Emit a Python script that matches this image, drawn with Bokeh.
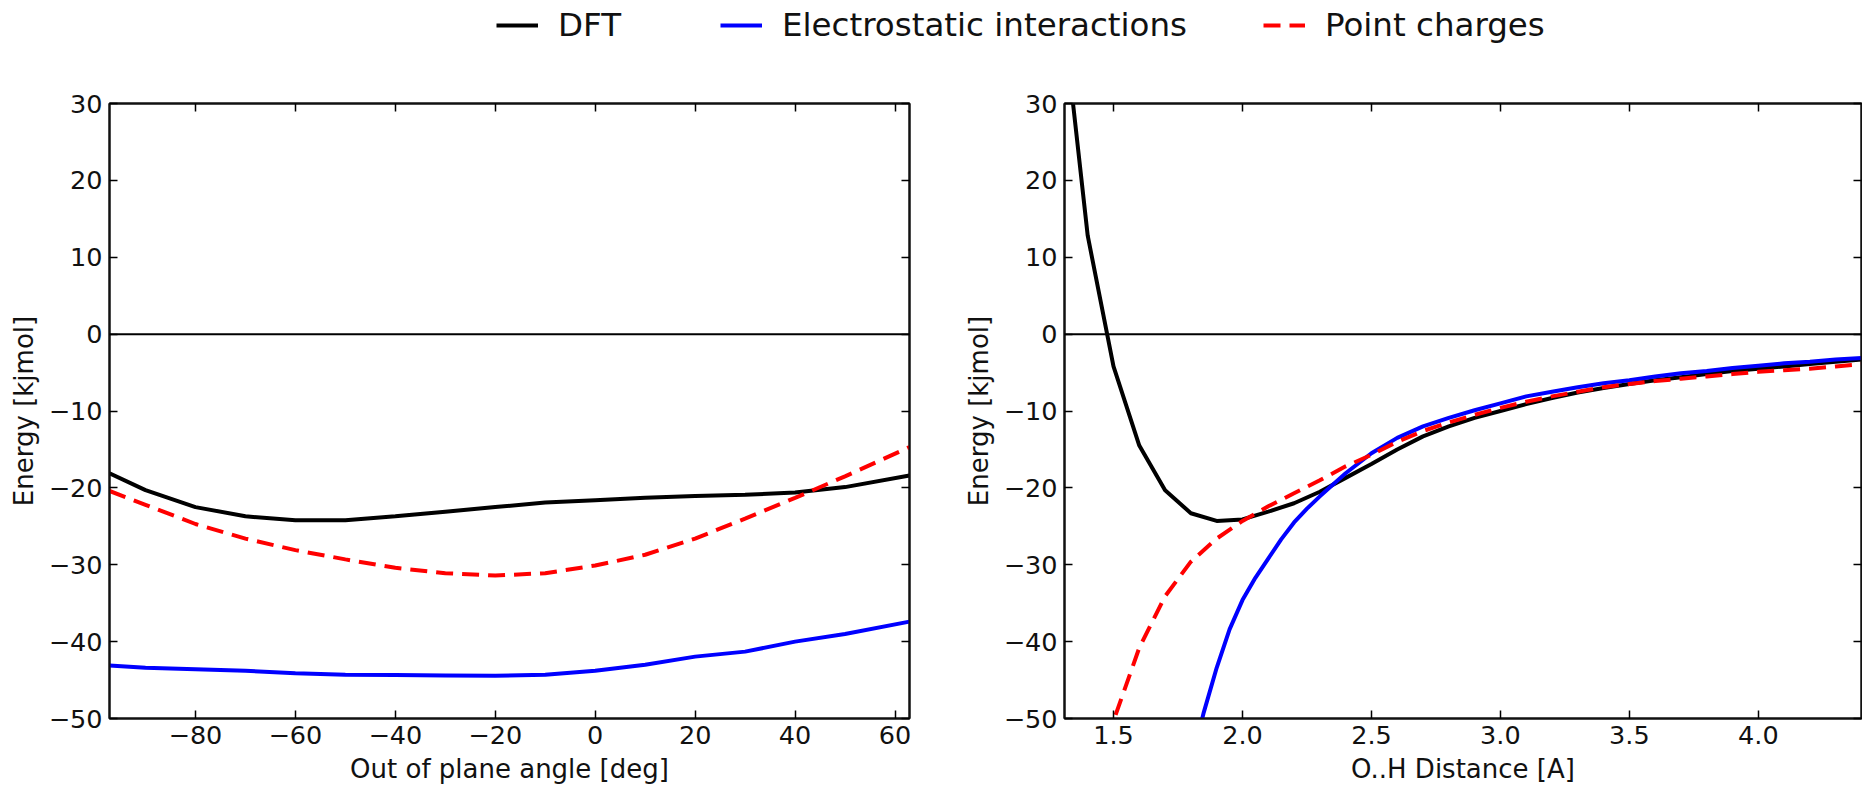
from bokeh.plotting import figure
from bokeh.models import Range1d, FixedTicker, LinearAxis, Span, Legend, LegendItem
from bokeh.layouts import column, row
from bokeh.embed import file_html
from bokeh.resources import INLINE

# ---------------- data: left panel (out of plane angle) ----------------
angle_deg = [-97.2, -90, -80, -70, -60, -50, -40, -30, -20, -10, 0, 10, 20, 30, 40, 50, 62.9]
angle_dft = [-18.1, -20.3, -22.5, -23.7, -24.2, -24.2, -23.7, -23.1, -22.5, -21.9, -21.6, -21.3,
             -21.05, -20.9, -20.6, -19.9, -18.4]
angle_elec = [-43.1, -43.4, -43.6, -43.8, -44.1, -44.3, -44.35, -44.4, -44.45, -44.3, -43.8, -43.0,
              -41.95, -41.3, -40.0, -39.0, -37.4]
angle_pc = [-20.4, -22.2, -24.7, -26.6, -28.1, -29.3, -30.4, -31.1, -31.4, -31.1, -30.1, -28.7,
            -26.6, -24.0, -21.3, -18.5, -14.7]

# ---------------- data: right panel (O..H distance) ----------------
dist_dft_x = [1.3, 1.4, 1.5, 1.6, 1.7, 1.8, 1.9, 2.0, 2.1, 2.2, 2.3, 2.4, 2.5, 2.6, 2.7, 2.8, 2.9,
              3.0, 3.1, 3.2, 3.3, 3.4, 3.5, 3.6, 3.7, 3.8, 3.9, 4.0, 4.1, 4.2, 4.3, 4.4]
dist_dft_y = [43.0, 12.8, -4.2, -14.5, -20.3, -23.3, -24.3, -24.1, -23.1, -22.0, -20.5, -18.7, -16.9,
              -15.0, -13.3, -12.0, -10.9, -10.0, -9.1, -8.3, -7.6, -7.0, -6.5, -6.0, -5.6, -5.2,
              -4.8, -4.5, -4.2, -3.9, -3.6, -3.3]
dist_elec_x = [1.8, 1.85, 1.9, 1.95, 2.0, 2.05, 2.1, 2.15, 2.2, 2.25, 2.3, 2.4, 2.5, 2.6, 2.7, 2.8,
               2.9, 3.0, 3.1, 3.2, 3.3, 3.4, 3.5, 3.6, 3.7, 3.8, 3.9, 4.0, 4.1, 4.2, 4.3, 4.4]
dist_elec_y = [-56.0, -49.2, -43.4, -38.4, -34.6, -31.7, -29.2, -26.7, -24.5, -22.7, -21.1, -18.1,
               -15.5, -13.5, -12.0, -10.9, -9.9, -9.0, -8.1, -7.5, -6.9, -6.4, -6.0, -5.5, -5.1,
               -4.8, -4.4, -4.1, -3.8, -3.6, -3.3, -3.1]
dist_pc_x = [1.45, 1.5, 1.6, 1.7, 1.8, 1.9, 2.0, 2.1, 2.2, 2.3, 2.4, 2.5, 2.6, 2.7, 2.8, 2.9, 3.0,
             3.1, 3.2, 3.3, 3.4, 3.5, 3.6, 3.7, 3.8, 3.9, 4.0, 4.1, 4.2, 4.3, 4.4]
dist_pc_y = [-56.0, -50.3, -40.8, -34.1, -29.6, -26.6, -24.3, -22.4, -20.7, -19.0, -17.2, -15.7,
             -14.0, -12.6, -11.5, -10.5, -9.6, -8.8, -8.1, -7.5, -6.9, -6.5, -6.1, -5.8, -5.5,
             -5.2, -4.9, -4.7, -4.5, -4.2, -3.9]

# ---------------- ticks / labels ----------------
left_xticks = [-80, -60, -40, -20, 0, 20, 40, 60]
left_xlabels = ["\u221280", "\u221260", "\u221240", "\u221220", "0", "20", "40", "60"]
right_xticks = [1.5, 2.0, 2.5, 3.0, 3.5, 4.0]
right_xlabels = ["1.5", "2.0", "2.5", "3.0", "3.5", "4.0"]
yticks = [-50, -40, -30, -20, -10, 0, 10, 20, 30]
ylabels = ["\u221250", "\u221240", "\u221230", "\u221220", "\u221210", "0", "10", "20", "30"]

series_names = ["DFT", "Electrostatic interactions", "Point charges"]
x_titles = ["Out of plane angle [deg]", "O..H Distance [A]"]
y_title = "Energy [kjmol]"

FONT = "DejaVu Sans"
C_DFT, C_ELEC, C_PC = "#000000", "#0000ff", "#ff0000"
LW = 4.0
DASH = "17 9"


def make_panel(width, xr, xticks, xlabels, xtitle, border_left, border_right):
    p = figure(width=width, height=716, x_range=Range1d(*xr), y_range=Range1d(-50, 30),
               output_backend="svg", toolbar_location=None,
               min_border_left=border_left, min_border_right=border_right,
               min_border_top=33, min_border_bottom=67)
    p.xgrid.visible = False
    p.ygrid.visible = False
    p.outline_line_color = "#111111"
    p.outline_line_width = 2
    p.background_fill_color = "white"
    p.border_fill_color = "white"

    for ax, ticks, labels in ((p.xaxis[0], xticks, xlabels), (p.yaxis[0], yticks, ylabels)):
        ax.ticker = FixedTicker(ticks=ticks)
        ax.major_label_overrides = {t: l for t, l in zip(ticks, labels)}
        ax.major_label_text_font = FONT
        ax.major_label_text_font_size = "25.5px"
        ax.major_label_text_color = "#111111"
        ax.axis_label_text_font = FONT
        ax.axis_label_text_font_size = "26px"
        ax.axis_label_text_font_style = "normal"
        ax.axis_label_text_color = "#111111"
        ax.major_tick_in = 8
        ax.major_tick_out = 0
        ax.major_tick_line_width = 1.5
        ax.minor_tick_line_color = None
        ax.axis_line_width = 2
        ax.axis_line_color = "#111111"
        ax.major_label_standoff = 7
        ax.axis_label_standoff = 7
    p.xaxis[0].axis_label = xtitle
    p.yaxis[0].axis_label = y_title

    for ticks, place in ((xticks, "above"), (yticks, "right")):
        ax = LinearAxis(ticker=FixedTicker(ticks=ticks),
                        major_label_overrides={t: "" for t in ticks},
                        major_label_text_font_size="0px", major_label_standoff=0,
                        major_tick_in=8, major_tick_out=0, major_tick_line_width=1.5,
                        minor_tick_line_color=None, axis_line_width=2,
                        axis_line_color="#111111")
        p.add_layout(ax, place)

    p.add_layout(Span(location=0, dimension="width", line_color="black", line_width=2))
    return p


p1 = make_panel(960, (-97.2, 62.9), left_xticks, left_xlabels, x_titles[0], 109, 51)
p1.line(angle_deg, angle_dft, line_color=C_DFT, line_width=LW)
p1.line(angle_deg, angle_elec, line_color=C_ELEC, line_width=LW)
p1.line(angle_deg, angle_pc, line_color=C_PC, line_width=LW, line_dash=DASH)

p2 = make_panel(902, (1.31, 4.40), right_xticks, right_xlabels, x_titles[1], 101, 1)
p2.line(dist_dft_x, dist_dft_y, line_color=C_DFT, line_width=LW)
p2.line(dist_elec_x, dist_elec_y, line_color=C_ELEC, line_width=LW)
p2.line(dist_pc_x, dist_pc_y, line_color=C_PC, line_width=LW, line_dash=DASH)

# ---------------- legend strip ----------------
nan = float("nan")
lf = figure(width=1862, height=70, x_range=Range1d(0, 1), y_range=Range1d(0, 1),
            x_axis_type=None, y_axis_type=None, toolbar_location=None,
            output_backend="svg", min_border=0)
lf.outline_line_color = None
lf.xgrid.visible = False
lf.ygrid.visible = False
r1 = lf.line(x=[nan], y=[nan], line_color=C_DFT, line_width=LW)
r2 = lf.line(x=[nan], y=[nan], line_color=C_ELEC, line_width=LW)
r3 = lf.line(x=[nan], y=[nan], line_color=C_PC, line_width=LW, line_dash=DASH)
for r, name, xloc in ((r1, series_names[0], 496), (r2, series_names[1], 720), (r3, series_names[2], 1263)):
    leg = Legend(items=[LegendItem(label=name, renderers=[r])], location=(xloc, 26),
                 orientation="horizontal", padding=0, margin=0, spacing=0,
                 border_line_color=None, background_fill_alpha=0,
                 glyph_width=42, glyph_height=30, label_standoff=20,
                 label_text_font=FONT, label_text_font_size="32.5px", label_text_color="#111111")
    lf.add_layout(leg)

layout = column(lf, row(p1, p2))
open("out.html", "w").write(file_html(layout, INLINE, title="Energy curves"))
